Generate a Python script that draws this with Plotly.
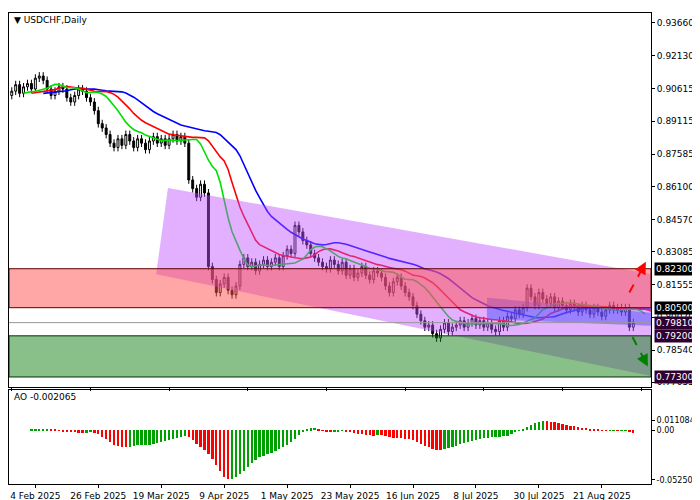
import numpy as np
import pandas as pd
import plotly.graph_objects as go
from plotly.subplots import make_subplots

# daily closes, USDCHF
closes = [0.9050, 0.9080, 0.9040, 0.9070, 0.9085, 0.9060,
          0.9110, 0.9120, 0.9100, 0.9060, 0.9030, 0.9050, 0.9070,
          0.9060, 0.9020, 0.9000, 0.9030, 0.9060, 0.9050, 0.9020,
          0.9000, 0.8960, 0.8900, 0.8880, 0.8850, 0.8810, 0.8790,
          0.8830, 0.8800, 0.8850, 0.8820, 0.8790, 0.8830, 0.8810, 0.8780, 0.8820,
          0.8840, 0.8810, 0.8830, 0.8800, 0.8830, 0.8850, 0.8820, 0.8840, 0.8810, 0.8640,
          0.8600, 0.8560, 0.8620, 0.8580, 0.8240,
          0.8180, 0.8120, 0.8160, 0.8190, 0.8130, 0.8110, 0.8150,
          0.8250, 0.8280, 0.8240, 0.8260, 0.8220, 0.8250, 0.8270, 0.8240,
          0.8260, 0.8280, 0.8240, 0.8290, 0.8320, 0.8300,
          0.8430, 0.8400, 0.8360, 0.8340,
          0.8300, 0.8280, 0.8260, 0.8240, 0.8230, 0.8270, 0.8250, 0.8220, 0.8260,
          0.8200, 0.8230, 0.8190, 0.8210, 0.8240, 0.8200, 0.8180, 0.8220, 0.8210, 0.8190,
          0.8150, 0.8120, 0.8170, 0.8190, 0.8150, 0.8120,
          0.8100, 0.8060, 0.8020, 0.7990, 0.7960, 0.7970,
          0.7930, 0.7910, 0.7950, 0.7980, 0.7940, 0.7960,
          0.7970, 0.7990, 0.7960, 0.7980, 0.8000, 0.7970, 0.7990, 0.7960, 0.7980,
          0.7950, 0.7940, 0.7990, 0.7960, 0.8010, 0.8000,
          0.8040, 0.8020, 0.8050, 0.8140, 0.8100,
          0.8060, 0.8120, 0.8090, 0.8070, 0.8100, 0.8050, 0.8080, 0.8060, 0.8040,
          0.8070, 0.8050, 0.8030, 0.8060,
          0.8040, 0.8020, 0.8050, 0.8030, 0.8010, 0.8040, 0.8060, 0.8040, 0.8050,
          0.8030, 0.8050, 0.7960, 0.7981]
first_open = 0.9030
wick = 0.0018

tick_idx = [6, 22, 38, 54, 70, 86, 102, 118, 134, 150]
tick_dates = ["4 Feb 2025", "26 Feb 2025", "19 Mar 2025", "9 Apr 2025", "1 May 2025",
              "23 May 2025", "16 Jun 2025", "8 Jul 2025", "30 Jul 2025", "21 Aug 2025"]
price_ticks = [0.93660, 0.92130, 0.90615, 0.89115, 0.87585, 0.86100, 0.84570,
               0.83085, 0.81555, 0.80070, 0.78540, 0.77055]
resistance = (0.8050, 0.8230)
support = (0.7730, 0.7920)
last_price = 0.79810
ao_ticks = [0.011084, 0.0, -0.052507]
ao_tick_text = ["0.011084", "0.00", "-0.052507"]

c = pd.Series(closes)
o = c.shift(1).fillna(first_open)
h = np.maximum(o, c) + wick
l = np.minimum(o, c) - wick
x = np.arange(len(c))
med = (h + l) / 2

fig = make_subplots(rows=2, cols=1, shared_xaxes=True, row_heights=[0.8, 0.2],
                    vertical_spacing=0.007)

fig.add_trace(go.Candlestick(x=x, open=o, high=h, low=l, close=c,
                             increasing=dict(line=dict(color="black", width=1), fillcolor="white"),
                             decreasing=dict(line=dict(color="black", width=1), fillcolor="black"),
                             whiskerwidth=0, showlegend=False), row=1, col=1)

# alligator lines
for n, sh, col in [(13, 8, "#0000ff"), (8, 5, "#ff0000"), (5, 3, "#00e000")]:
    sm = med.ewm(alpha=1 / n, adjust=False).mean()
    fig.add_trace(go.Scatter(x=x + sh, y=sm, mode="lines", line=dict(color=col, width=1.6),
                             showlegend=False, hoverinfo="skip"), row=1, col=1)

# awesome oscillator
ao = med.rolling(5, min_periods=1).mean() - med.rolling(34, min_periods=1).mean()
ao_col = np.where(ao.diff().fillna(0) >= 0, "#00a000", "#ff0000")
fig.add_trace(go.Bar(x=x, y=ao, marker=dict(color=ao_col, line=dict(width=0)), width=0.6,
                     showlegend=False), row=2, col=1)

xr = [-0.7, 162.5]
# channel and zones
fig.add_shape(type="path", path="M 39.7 0.8603 L 165 0.8197 L 165 0.7725 L 36.7 0.8204 Z",
              fillcolor="rgba(190,80,255,0.45)", line=dict(width=0), xref="x", yref="y", layer="above")
fig.add_shape(type="path", path="M 120.8 0.8096 L 165 0.8023 L 165 0.7965 L 120.8 0.7997 Z",
              fillcolor="rgba(80,80,255,0.5)", line=dict(width=0), xref="x", yref="y", layer="above")
fig.add_shape(type="rect", x0=xr[0], x1=xr[1], y0=resistance[0], y1=resistance[1],
              fillcolor="rgba(255,80,80,0.5)", line=dict(color="#600000", width=1), xref="x", yref="y", layer="above")
fig.add_shape(type="rect", x0=xr[0], x1=xr[1], y0=support[0], y1=support[1],
              fillcolor="rgba(20,130,20,0.5)", line=dict(color="#003000", width=1), xref="x", yref="y", layer="above")
fig.add_hline(y=last_price, line=dict(color="#999999", width=1), row=1, col=1)

# dashed arrows
for (x0, y0, x1, y1, col) in [(157.0, 0.8120, 161.2, 0.8262, "#ff0000"),
                              (157.8, 0.7915, 161.7, 0.7778, "#008000")]:
    fig.add_shape(type="line", x0=x0, y0=y0, x1=x1, y1=y1, xref="x", yref="y",
                  line=dict(color=col, width=2, dash="dash"), layer="above")
    fig.add_annotation(x=x1, y=y1, ax=x1 - (x1 - x0) * 0.25, ay=y1 - (y1 - y0) * 0.25,
                       xref="x", yref="y", axref="x", ayref="y", showarrow=True, arrowhead=2,
                       arrowsize=1.2, arrowwidth=2, arrowcolor=col, text="")

# price labels on the right axis
for val, bg in [(0.8230, "black"), (0.8050, "black"), (0.7730, "#300030"),
                (0.7981, "#300030"), (0.7920, "#300030")]:
    fig.add_annotation(x=1.005, y=val, xref="paper", yref="y", text=f"{val:.5f}", showarrow=False,
                       xanchor="left", bgcolor=bg, font=dict(color="white", size=9, family="DejaVu Sans"),
                       borderpad=1)

fig.add_annotation(x=0.005, y=1, xref="paper", yref="paper", text="▼ USDCHF,Daily", showarrow=False,
                   xanchor="left", yanchor="top", font=dict(size=9, family="DejaVu Sans", color="black"))
fig.add_annotation(x=0.005, y=0.2, xref="paper", yref="paper", text="AO -0.002065", showarrow=False,
                   xanchor="left", yanchor="top", font=dict(size=9, family="DejaVu Sans", color="black"))

ax_style = dict(showgrid=False, showline=True, linecolor="black", mirror=True, zeroline=False,
                tickfont=dict(size=9, family="DejaVu Sans", color="black"), ticks="outside",
                ticklen=3, tickcolor="black")
fig.update_xaxes(range=xr, rangeslider_visible=False, **ax_style)
fig.update_xaxes(tickvals=tick_idx, ticktext=tick_dates, row=2, col=1)
fig.update_xaxes(showticklabels=False, row=1, col=1)
fig.update_yaxes(side="right", **ax_style)
fig.update_yaxes(range=[0.7683, 0.9411], tickvals=price_ticks, tickformat=".5f", row=1, col=1)
fig.update_yaxes(range=[-0.057, 0.043], tickvals=ao_ticks, ticktext=ao_tick_text,
                 tickfont=dict(size=8, family="DejaVu Sans", color="black"), row=2, col=1)

fig.update_layout(width=700, height=500, margin=dict(l=1, r=57, t=5, b=24),
                  plot_bgcolor="white", paper_bgcolor="white", bargap=0)
fig.write_html("out.html")
